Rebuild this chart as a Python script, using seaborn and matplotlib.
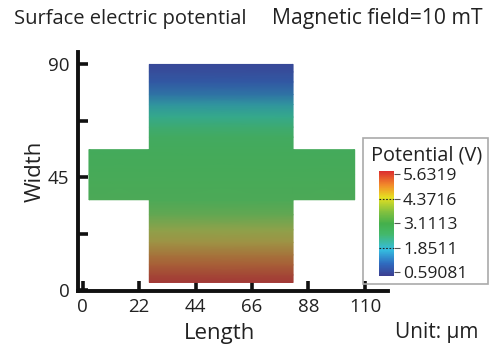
import numpy as np
import matplotlib
matplotlib.use("Agg")
import matplotlib.pyplot as plt
import seaborn as sns
from matplotlib.colors import LinearSegmentedColormap, Normalize
from matplotlib.patches import Rectangle

# Potential profile across the width of the device (um -> V)
width_pos = [3, 6, 10, 14, 19, 24, 30, 36, 46, 56, 61, 65, 69, 74, 78, 83, 87, 90]
potential = [5.6, 5.45, 5.2, 4.95, 4.6, 4.25, 3.6, 3.2, 3.11, 3.0, 2.8, 2.4, 2.0, 1.55, 1.25, 0.9, 0.65, 0.55]

# device geometry (um)
bar_x = [26, 82]
arm_left_x = [2.5, 26]
arm_right_x = [82, 106]
arm_y = [36, 56]

cbar_ticks = [5.6319, 4.3716, 3.1113, 1.8511, 0.59081]
cbar_labels = ["5.6319", "4.3716", "3.1113", "1.8511", "0.59081"]
x_ticks = [0, 22, 44, 66, 88, 110]
y_ticks = [0, 45, 90]
y_minor = [22.5, 67.5]

sns.set_theme(style="ticks")
plt.rcParams["font.family"] = ["Open Sans", "DejaVu Sans"]
TXT = "#222222"

anchors = [0.0, 0.12, 0.25, 0.4, 0.5, 0.62, 0.75, 0.87, 1.0]
bar_colors = ["#3b3d8f", "#2f6cc0", "#35bde0", "#43b86a", "#44b04c", "#86c23e",
              "#e6e020", "#f28a2a", "#dc2f2f"]
shade_colors = ["#3a4393", "#2f5ea8", "#30a89a", "#40aa68", "#45aa58", "#6aa650",
                "#9aa048", "#a86a38", "#a02a35"]
cmap_bar = LinearSegmentedColormap.from_list("pot", list(zip(anchors, bar_colors)))
cmap_dev = LinearSegmentedColormap.from_list("pot_dev", list(zip(anchors, shade_colors)))
norm = Normalize(vmin=0.385, vmax=5.786)

fig = plt.figure(figsize=(4.9, 3.46), dpi=100)
ax = fig.add_axes([0.159, 0.159, 0.633, 0.691])

ys = np.array(width_pos)
vals = np.array(potential)
C = np.column_stack([vals, vals])
X, Y = np.meshgrid(bar_x, ys)
ax.pcolormesh(X, Y, C, shading="gouraud", cmap=cmap_dev, norm=norm)

sel = (ys >= arm_y[0]) & (ys <= arm_y[1])
Ca = np.column_stack([vals[sel], vals[sel]])
for xs in (arm_left_x, arm_right_x):
    Xa, Ya = np.meshgrid(xs, ys[sel])
    ax.pcolormesh(Xa, Ya, Ca, shading="gouraud", cmap=cmap_dev, norm=norm)

ax.set_xlim(-1.8, 119)
ax.set_ylim(-0.4, 95)
ax.set_xticks(x_ticks)
ax.set_yticks(y_ticks)
ax.set_yticks(y_minor, minor=True)
sns.despine(ax=ax)
for s in ("left", "bottom"):
    ax.spines[s].set_linewidth(2.8)
    ax.spines[s].set_color("#111111")
ax.tick_params(which="both", direction="in", length=7, width=2.6, color="#111111",
               labelsize=13.5, labelcolor=TXT)
ax.tick_params(axis="x", pad=5)
ax.tick_params(axis="y", pad=6)
ax.set_xlabel("Length", fontsize=16, color=TXT, labelpad=5, x=0.458)
ax.set_ylabel("Width", fontsize=16, color=TXT, labelpad=2)

fig.text(0.028, 0.931, "Surface electric potential", fontsize=14.5, color=TXT,
         va="baseline")
fig.text(0.555, 0.931, "Magnetic field=10 mT", fontsize=15.2, color=TXT,
         va="baseline")
fig.text(0.806, 0.023, "Unit: \u03bcm", fontsize=15, color=TXT, va="baseline")

# colorbar legend
fig.patches.append(Rectangle((0.741, 0.179), 0.255, 0.422, transform=fig.transFigure,
                             fill=False, edgecolor="#aaaaaa", linewidth=1.2))
fig.text(0.757, 0.537, "Potential (V)", fontsize=14.3, color=TXT)
cax = fig.add_axes([0.773, 0.202, 0.031, 0.303])
sm = plt.cm.ScalarMappable(norm=norm, cmap=cmap_bar)
cb = fig.colorbar(sm, cax=cax, ticks=cbar_ticks)
cb.outline.set_visible(False)
cb.ax.set_yticklabels(cbar_labels)
cb.ax.tick_params(length=4, width=0.8, color="#555555", labelsize=12.5,
                  labelcolor=TXT, pad=2.5)
for v in (4.3716, 1.8511):
    cax.axhline(v, color="#222222", lw=0.8, ls=(0, (1.5, 1.5)))

fig.savefig("out.png", dpi=100)
